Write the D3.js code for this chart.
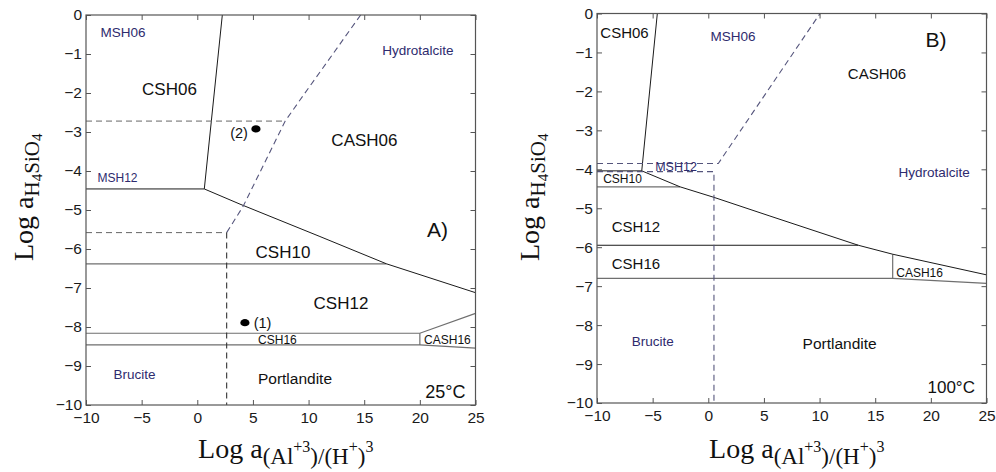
<!DOCTYPE html>
<html><head><meta charset="utf-8">
<script src="https://cdn.jsdelivr.net/npm/d3@7"></script>
<style>
body{margin:0;background:#fff;}
svg{display:block;font-family:"Liberation Sans",Arial,sans-serif;}
</style></head>
<body><svg id="c" width="996" height="472"></svg>
<script>
// ---------- data ----------
const xTicks = [-10,-5,0,5,10,15,20,25];
const yTicks = [0,-1,-2,-3,-4,-5,-6,-7,-8,-9,-10];

// Panel A (25°C) phase boundaries [x, y]
const aSolidDark = [
  [[2.25,0],[0.63,-4.46]],
  [[-10,-4.46],[0.63,-4.46]],
  [[0.63,-4.46],[3.84,-4.85],[11.02,-5.68],[17.0,-6.38],[25,-7.12]]
];
const aSolidGray = [
  [[-10,-6.38],[17.0,-6.38]],
  [[-10,-8.16],[20,-8.16],[25,-7.65]],
  [[-10,-8.46],[20,-8.46],[25,-8.54]],
  [[20,-8.16],[20,-8.46]]
];
const aDashedGray = [
  [[-10,-2.72],[7.9,-2.72]],
  [[-10,-5.58],[2.64,-5.58]]
];
const aDashedBlue = [
  [[14.68,0],[9.23,-2.18],[7.9,-2.72],[4.13,-4.9],[2.64,-5.58]]
];
const aDashedDark = [
  [[2.64,-5.58],[2.64,-10]]
];
const aPoints = [
  {name:"(2)", x:5.27, y:-2.92, lx:3.75, ly:-3.03},
  {name:"(1)", x:4.28, y:-7.89, lx:5.86, ly:-7.90}
];
const aLabels = [
  {t:"MSH06", x:-6.68, y:-0.44, k:"m"},
  {t:"CSH06", x:-2.5, y:-1.92, k:"b"},
  {t:"MSH12", x:-7.17, y:-4.18, k:"ms"},
  {t:"Hydrotalcite", x:19.83, y:-0.9, k:"m"},
  {t:"CASH06", x:15.02, y:-3.21, k:"b"},
  {t:"A)", x:21.58, y:-5.51, k:"p"},
  {t:"CSH10", x:7.7, y:-6.08, k:"b"},
  {t:"CSH12", x:12.91, y:-7.41, k:"b"},
  {t:"CSH16", x:7.2, y:-8.33, k:"s"},
  {t:"CASH16", x:22.48, y:-8.33, k:"s"},
  {t:"Portlandite", x:8.78, y:-9.33, k:"b2"},
  {t:"25°C", x:22.3, y:-9.67, k:"t"},
  {t:"Brucite", x:-5.64, y:-9.21, k:"m"}
];

// Panel B (100°C)
const bSolidDark = [
  [[-4.58,0],[-5.98,-4.04]],
  [[-10,-4.04],[-5.98,-4.04]],
  [[-5.98,-4.04],[-2.54,-4.45],[0.51,-4.72],[5.54,-5.2],[13.48,-5.95],[16.57,-6.18],[25,-6.71]],
  [[-10,-5.95],[13.48,-5.95]]
];
const bSolidGray = [
  [[-10,-4.45],[-2.54,-4.45]],
  [[-10,-6.8],[16.57,-6.8],[25,-6.93]],
  [[16.57,-6.18],[16.57,-6.8]]
];
const bDashedBlue = [
  [[-10,-3.85],[0.9,-3.85],[10.04,0]],
  [[-10,-4.06],[0.51,-4.06],[0.51,-10]]
];
const bLabels = [
  {t:"CSH06", x:-7.53, y:-0.5, k:"bb"},
  {t:"MSH06", x:2.22, y:-0.6, k:"m"},
  {t:"B)", x:20.46, y:-0.68, k:"p"},
  {t:"CASH06", x:15.16, y:-1.53, k:"bb"},
  {t:"Hydrotalcite", x:20.3, y:-4.09, k:"m"},
  {t:"MSH12", x:-2.9, y:-3.94, k:"ms2"},
  {t:"CSH10", x:-7.71, y:-4.25, k:"s"},
  {t:"CSH12", x:-6.5, y:-5.46, k:"bb"},
  {t:"CSH16", x:-6.5, y:-6.43, k:"bb"},
  {t:"CASH16", x:18.99, y:-6.65, k:"s"},
  {t:"Brucite", x:-5.0, y:-8.41, k:"m"},
  {t:"Portlandite", x:11.8, y:-8.47, k:"b2"},
  {t:"100°C", x:21.83, y:-9.61, k:"t2"}
];

// ---------- drawing ----------
const svg = d3.select("#c");
const NAVY = "#2e2b6e";
const styles = {
  m:{size:13.5, fill:NAVY},
  ms:{size:12, fill:NAVY},
  ms2:{size:12.5, fill:NAVY},
  b:{size:17, fill:"#111"},
  bb:{size:15, fill:"#111"},
  b2:{size:15.5, fill:"#111"},
  s:{size:12, fill:"#111"},
  p:{size:21, fill:"#111"},
  t:{size:18, fill:"#111"},
  t2:{size:17, fill:"#111"}
};

function panel(opt){
  const x = d3.scaleLinear().domain([-10,25]).range([opt.x0,opt.x1]);
  const y = d3.scaleLinear().domain([0,-10]).range([opt.y0,opt.y1]);
  const g = svg.append("g");
  const line = d3.line().x(d=>x(d[0])).y(d=>y(d[1]));

  const draw = (sets, color, width, dash) => {
    (sets||[]).forEach(s=>{
      g.append("path").attr("d", line(s)).attr("fill","none")
        .attr("stroke",color).attr("stroke-width",width)
        .attr("stroke-dasharray", dash||null);
    });
  };
  draw(opt.gray, "#6f6f6f", 1.2);
  draw(opt.dark, "#1a1a1a", 1);
  draw(opt.dashGray, "#666", 1, "6,4");
  draw(opt.dashBlue, "#55557c", 1.1, "6,4");
  draw(opt.dashDark, "#333", 1.1, "6,4");

  // axes (ticks inward)
  const tc = "#555";
  const ax = (gen, tr, lab) => {
    const a = g.append("g").attr("transform",tr).call(gen);
    a.select(".domain").remove();
    a.selectAll(".tick line").attr("stroke",tc);
    a.selectAll("text").attr("font-size",15.5).attr("fill","#1a1a1a")
      .attr("font-family","'Liberation Sans',Arial,sans-serif");
    if(!lab) a.selectAll("text").remove();
    return a;
  };
  ax(d3.axisBottom(x).tickValues(xTicks).tickSizeInner(-5).tickSizeOuter(0).tickPadding(7), `translate(0,${opt.y1})`, true);
  ax(d3.axisTop(x).tickValues(xTicks).tickSizeInner(-5).tickSizeOuter(0), `translate(0,${opt.y0})`, false);
  ax(d3.axisLeft(y).tickValues(yTicks).tickSizeInner(-5).tickSizeOuter(0).tickPadding(4), `translate(${opt.x0},0)`, true);
  ax(d3.axisRight(y).tickValues(yTicks).tickSizeInner(-5).tickSizeOuter(0), `translate(${opt.x1},0)`, false);

  g.append("rect").attr("x",opt.x0).attr("y",opt.y0)
    .attr("width",opt.x1-opt.x0).attr("height",opt.y1-opt.y0)
    .attr("fill","none").attr("stroke","#555").attr("stroke-width",1.2);

  // region labels
  opt.labels.forEach(l=>{
    const s = styles[l.k];
    g.append("text").attr("x",x(l.x)).attr("y",y(l.y))
      .attr("text-anchor","middle").attr("dominant-baseline","central")
      .attr("font-size",s.size).attr("fill",s.fill).text(l.t);
  });

  (opt.points||[]).forEach(p=>{
    g.append("ellipse").attr("cx",x(p.x)).attr("cy",y(p.y))
      .attr("rx",4.6).attr("ry",3.6).attr("fill","#000");
    g.append("text").attr("x",x(p.lx)).attr("y",y(p.ly))
      .attr("text-anchor","middle").attr("dominant-baseline","central")
      .attr("font-size",14.5).attr("fill","#111").text(p.name);
  });

  // axis titles
  const serif = "'Liberation Serif','Times New Roman',serif";
  const xt = svg.append("text").attr("x",(opt.x0+opt.x1)/2+5).attr("y",458)
    .attr("text-anchor","middle").attr("font-family",serif).attr("fill","#111");
  xt.append("tspan").attr("font-size",28).text("Log a");
  xt.append("tspan").attr("font-size",23).attr("dy",6).text("(Al");
  xt.append("tspan").attr("font-size",16).attr("dy",-12).text("+3");
  xt.append("tspan").attr("font-size",23).attr("dy",12).text(")/(H");
  xt.append("tspan").attr("font-size",16).attr("dy",-12).text("+");
  xt.append("tspan").attr("font-size",23).attr("dy",12).text(")");
  xt.append("tspan").attr("font-size",16).attr("dy",-12).text("3");

  const yt = svg.append("text").attr("transform",`translate(${opt.ytx},261) rotate(-90)`)
    .attr("text-anchor","start").attr("font-family",serif).attr("fill","#111");
  yt.append("tspan").attr("font-size",28).text("Log a");
  yt.append("tspan").attr("font-size",21).attr("dy",6).text("H");
  yt.append("tspan").attr("font-size",15).attr("dy",3).text("4");
  yt.append("tspan").attr("font-size",21).attr("dy",-3).text("SiO");
  yt.append("tspan").attr("font-size",15).attr("dy",3).text("4");
}

panel({x0:86, x1:475.5, y0:15, y1:405, ytx:33,
  dark:aSolidDark, gray:aSolidGray, dashGray:aDashedGray, dashBlue:aDashedBlue, dashDark:aDashedDark,
  labels:aLabels, points:aPoints});
panel({x0:597, x1:986.5, y0:13.5, y1:403, ytx:539,
  dark:bSolidDark, gray:bSolidGray, dashBlue:bDashedBlue,
  labels:bLabels});
</script></body></html>
